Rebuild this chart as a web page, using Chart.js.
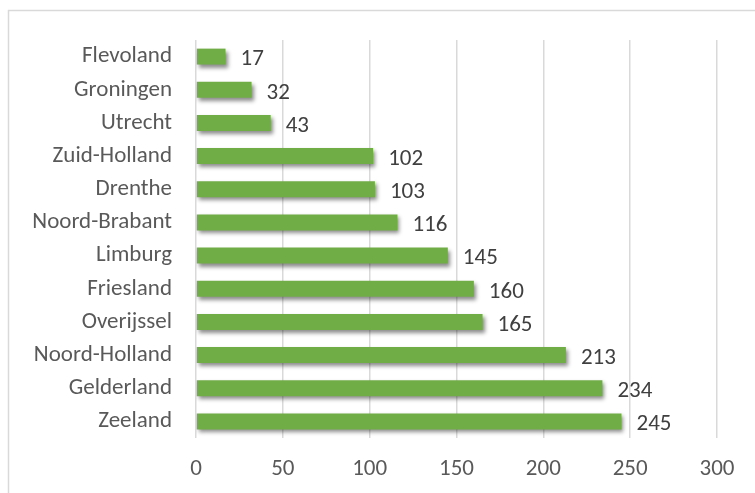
<!DOCTYPE html>
<html>
<head>
<meta charset="utf-8">
<script src="https://cdn.jsdelivr.net/npm/chart.js@4/dist/chart.umd.min.js"></script>
<style>
  html, body { margin: 0; padding: 0; background: #fff; }
  #wrap { width: 755px; height: 493px; }
</style>
</head>
<body>
<div id="wrap"><canvas id="chart"></canvas></div>
<script>
const provinces = [
  'Flevoland', 'Groningen', 'Utrecht', 'Zuid-Holland', 'Drenthe', 'Noord-Brabant',
  'Limburg', 'Friesland', 'Overijssel', 'Noord-Holland', 'Gelderland', 'Zeeland',
];
const counts = [17, 32, 43, 102, 103, 116, 145, 160, 165, 213, 234, 245];
const xTicks = [0, 50, 100, 150, 200, 250, 300];

const fontFamily = "Carlito, 'Open Sans', 'Liberation Sans', sans-serif";

// frame round the chart, cut off at the right and bottom like the original
const framePlugin = {
  id: 'frame',
  beforeDraw: (chart) => {
    const ctx = chart.ctx;
    ctx.save();
    ctx.strokeStyle = '#d9d9d9';
    ctx.lineWidth = 1.5;
    ctx.strokeRect(8.5, 10.5, 900, 700);
    ctx.restore();
  },
};

// soft shadow under the bars
const shadowPlugin = {
  id: 'barShadow',
  beforeDatasetDraw: (chart) => {
    const ctx = chart.ctx;
    ctx.save();
    ctx.shadowColor = 'rgba(0, 0, 0, 0.45)';
    ctx.shadowBlur = 4;
    ctx.shadowOffsetX = 2;
    ctx.shadowOffsetY = 3;
  },
  afterDatasetDraw: (chart) => {
    chart.ctx.restore();
  },
};

// value labels at the end of each bar
const valuePlugin = {
  id: 'values',
  afterDatasetsDraw: (chart) => {
    const ctx = chart.ctx;
    const meta = chart.getDatasetMeta(0);
    ctx.save();
    ctx.font = '23px ' + fontFamily;
    ctx.fillStyle = '#404040';
    ctx.textAlign = 'left';
    ctx.textBaseline = 'middle';
    meta.data.forEach((bar, i) => {
      ctx.fillText(String(counts[i]), bar.x + 15, bar.y + 3);
    });
    ctx.restore();
  },
};

new Chart(document.getElementById('chart'), {
  type: 'bar',
  data: {
    labels: provinces,
    datasets: [
      {
        data: counts,
        backgroundColor: '#70ad47',
        borderWidth: 0,
        categoryPercentage: 1,
        barPercentage: 0.48,
      },
    ],
  },
  options: {
    indexAxis: 'y',
    responsive: true,
    maintainAspectRatio: false,
    animation: false,
    layout: { padding: { top: 40, right: 38, bottom: 0, left: 0 } },
    plugins: {
      legend: { display: false },
      tooltip: { enabled: false },
    },
    scales: {
      x: {
        min: 0,
        max: 300,
        afterBuildTicks: (scale) => {
          scale.ticks = xTicks.map((v) => ({ value: v }));
        },
        afterFit: (scale) => {
          scale.height = 55;
        },
        grid: { color: '#d9d9d9', lineWidth: 1.5, drawTicks: false },
        border: { display: false },
        ticks: {
          padding: 17,
          color: '#595959',
          font: { family: fontFamily, size: 23 },
        },
      },
      y: {
        afterFit: (scale) => {
          scale.width = 196;
        },
        grid: { display: false, drawTicks: false },
        border: { display: false },
        ticks: {
          padding: 24,
          color: '#595959',
          font: { family: fontFamily, size: 23 },
        },
      },
    },
  },
  plugins: [framePlugin, shadowPlugin, valuePlugin],
});
</script>
</body>
</html>
